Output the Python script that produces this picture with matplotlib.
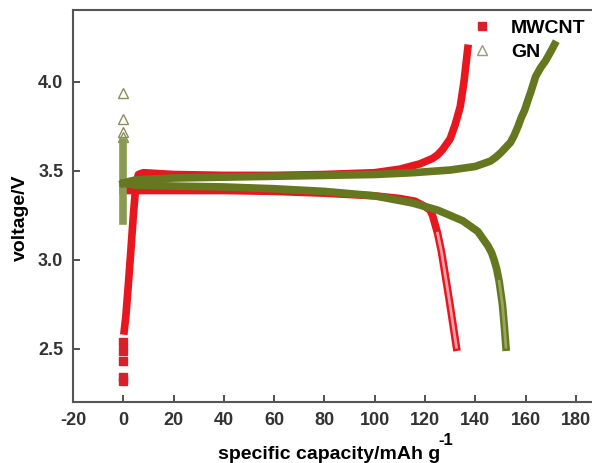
import matplotlib.pyplot as plt
from matplotlib.lines import Line2D

plt.rcParams['font.family'] = ['Liberation Sans', 'DejaVu Sans']
plt.rcParams['font.weight'] = 'bold'

# MWCNT charge / discharge (capacity in mAh/g, voltage in V)
mw_start_x = [0, 0, 0, 0, 0]
mw_start_v = [2.32, 2.34, 2.43, 2.49, 2.54]
mw_chg_x = [0.2, 0.5, 1, 2, 3, 4, 5, 6, 8, 20, 40, 60, 80, 100, 110, 118,
            123, 125, 127, 128.5, 130, 131, 132, 133, 134, 135.5, 137.2]
mw_chg_v = [2.58, 2.62, 2.68, 2.86, 3.05, 3.25, 3.42, 3.48, 3.49, 3.48,
            3.475, 3.475, 3.48, 3.49, 3.51, 3.54, 3.57, 3.59, 3.62, 3.65,
            3.68, 3.72, 3.76, 3.81, 3.86, 4.0, 4.21]
mw_dis_x = [0, 5, 20, 40, 60, 80, 100, 110, 116, 120, 122, 123, 124, 125,
            126.5, 128, 129.6, 131, 132.5]
mw_dis_v = [3.39, 3.39, 3.39, 3.39, 3.385, 3.375, 3.36, 3.345, 3.33, 3.30,
            3.28, 3.25, 3.20, 3.15, 3.05, 2.92, 2.78, 2.65, 2.51]

# GN charge / discharge
gn_start_x = [0, 0, 0, 0]
gn_start_v = [3.94, 3.79, 3.72, 3.69]
gn_init_x = [0, 0, 0, 0, 0]
gn_init_v = [3.22, 3.32, 3.45, 3.56, 3.66]
gn_chg_x = [0, 2, 5, 20, 40, 60, 80, 100, 115, 130, 140, 143, 146, 148,
            150, 152, 154, 155.5, 157, 158.3, 159.6, 161, 162, 164, 166,
            168, 170, 171.5]
gn_chg_v = [3.43, 3.44, 3.45, 3.46, 3.465, 3.47, 3.475, 3.48, 3.49, 3.505,
            3.525, 3.54, 3.555, 3.575, 3.6, 3.63, 3.66, 3.70, 3.75, 3.80,
            3.84, 3.90, 3.94, 4.03, 4.08, 4.12, 4.17, 4.21]
gn_dis_x = [0, 5, 20, 40, 60, 80, 100, 115, 125, 135, 138, 141, 143, 145,
            146.5, 147.5, 148.5, 149.5, 150.8, 151.6, 152.2]
gn_dis_v = [3.43, 3.42, 3.415, 3.41, 3.40, 3.385, 3.36, 3.32, 3.28, 3.22,
            3.19, 3.16, 3.12, 3.08, 3.04, 3.0, 2.95, 2.88, 2.75, 2.62, 2.51]

xticks = [-20, 0, 20, 40, 60, 80, 100, 120, 140, 160, 180]
yticks = [2.5, 3.0, 3.5, 4.0]

red = '#e8161e'
pink = '#f2a0aa'
olive = '#66781f'
lolive = '#9aa460'

fig = plt.figure(figsize=(5.92, 4.63), dpi=100)
ax = fig.add_axes([73 / 592, 1 - 402 / 463, 530 / 592, 392 / 463])

ax.plot(mw_start_x, mw_start_v, 's', color='#d8202a', ms=6, ls='none')
ax.plot(mw_chg_x, mw_chg_v, color=red, lw=5.5, solid_capstyle='butt', zorder=3)
ax.plot(mw_dis_x, mw_dis_v, color=red, lw=5.5, zorder=3)
ax.plot(mw_dis_x[-6:], mw_dis_v[-6:], color=pink, lw=2, zorder=3)

ax.plot(gn_start_x, gn_start_v, '^', mfc='none', mec='#8c8c60', ms=7, mew=1, ls='none')
ax.plot(gn_init_x, gn_init_v, color='#8a9a50', lw=5.5, zorder=4)
ax.plot(gn_chg_x, gn_chg_v, color=olive, lw=5.5, zorder=4)
ax.plot(gn_dis_x, gn_dis_v, color=olive, lw=5.5, zorder=4)
ax.plot(gn_dis_x[-4:], gn_dis_v[-4:], color=lolive, lw=2, zorder=4)

ax.set_xlim(-20, 190.8)
ax.set_ylim(2.202, 4.404)
ax.set_xticks(xticks)
ax.set_yticks(yticks)
ax.set_xticklabels([str(t) for t in xticks])
ax.set_yticklabels(['%.1f' % t for t in yticks])
ax.tick_params(direction='in', length=5, width=1.2, colors='#333333',
               labelsize=13, pad=7)
for s in ax.spines.values():
    s.set_color('#555555')
    s.set_linewidth(1.5)
ax.spines['right'].set_visible(False)

ax.set_ylabel('voltage/V', fontsize=14, fontweight='bold')
ax.yaxis.set_label_coords(-0.084, 0.47)
ax.set_xlabel('specific capacity/mAh g', fontsize=14, fontweight='bold')
ax.xaxis.set_label_coords(0.483, -0.112)
ax.text(0.689, -0.118, '-1', transform=ax.transAxes, fontsize=12,
        fontweight='bold', ha='left', va='bottom')

handles = [Line2D([], [], ls='none', marker='s', color='#d8202a', ms=6),
           Line2D([], [], ls='none', marker='^', mfc='none', mec='#9a9a80', ms=7)]
ax.legend(handles, ['MWCNT', 'GN'], loc='upper left',
          bbox_to_anchor=(0.72, 1.02), frameon=False, fontsize=14,
          handlelength=1.0, handletextpad=1.0, labelspacing=0.3)

fig.savefig('out.png', dpi=100)
